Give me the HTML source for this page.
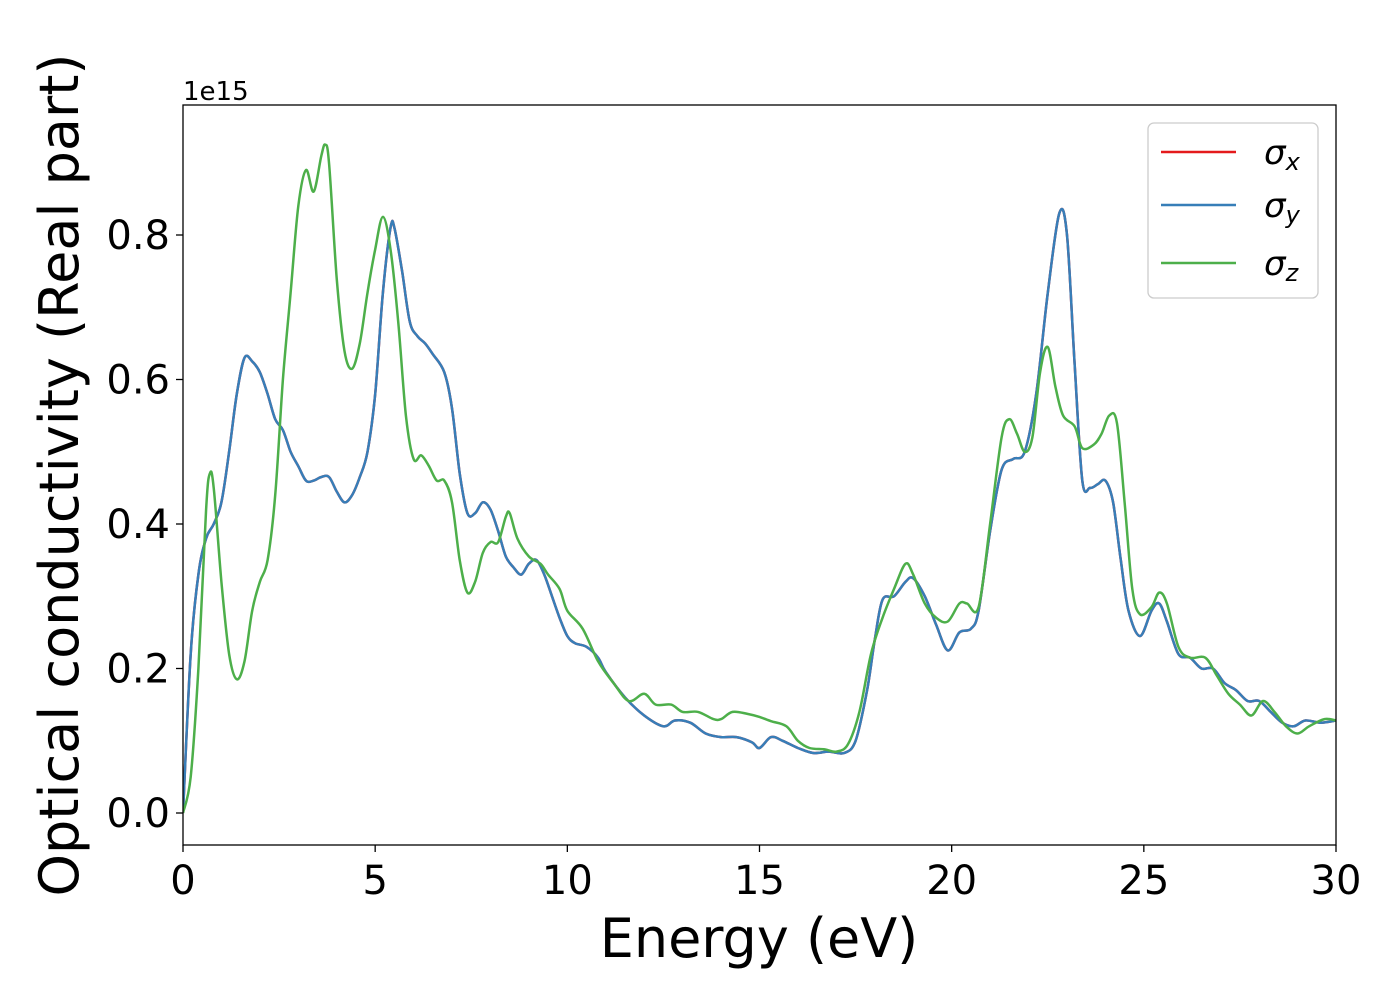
<!DOCTYPE html>
<html><head><meta charset="utf-8"><style>
body{margin:0;background:#fff;}
svg{display:block;font-family:"DejaVu Sans","Liberation Sans",sans-serif;}
</style></head><body>
<svg id="chart" width="1400" height="1000">
<rect x="0" y="0" width="1400" height="1000" fill="#fff"/>
<g id="plot"></g>
<g id="axes"></g>
<rect x="183" y="105" width="1153" height="740" fill="none" stroke="#000" stroke-width="1.3"/>
<text x="183" y="100" font-size="26">1e15</text>
<text x="759" y="957" font-size="54" text-anchor="middle">Energy (eV)</text>
<text transform="translate(78,475) rotate(-90)" font-size="54" text-anchor="middle">Optical conductivity (Real part)</text>
<g>
<rect x="1148" y="123" width="170" height="175" rx="6" fill="#fff" fill-opacity="0.8" stroke="#ccc" stroke-width="1.3"/>
<line x1="1161" y1="152" x2="1236" y2="152" stroke="#e41a1c" stroke-width="2.5"/>
<text x="1264" y="164" font-size="34" font-style="italic">σ<tspan font-size="24" dy="6">x</tspan></text>
<line x1="1161" y1="205" x2="1236" y2="205" stroke="#377eb8" stroke-width="2.5"/>
<text x="1264" y="217" font-size="34" font-style="italic">σ<tspan font-size="24" dy="6">y</tspan></text>
<line x1="1161" y1="263" x2="1236" y2="263" stroke="#4daf4a" stroke-width="2.5"/>
<text x="1264" y="275" font-size="34" font-style="italic">σ<tspan font-size="24" dy="6">z</tspan></text>
</g>
</svg>
<script>
const xTicks=[0,5,10,15,20,25,30];
const yTicks=[0.0,0.2,0.4,0.6,0.8];
const xyE=[0,0.2,0.4,0.6,0.8,1.0,1.2,1.4,1.6,1.8,2.0,2.2,2.4,2.6,2.8,3.0,3.2,3.4,3.6,3.8,4.0,4.2,4.4,4.6,4.8,5.0,5.2,5.4,5.5,5.7,5.9,6.1,6.3,6.5,6.8,7.0,7.2,7.4,7.6,7.8,8.0,8.2,8.4,8.6,8.8,9.0,9.2,9.4,9.6,9.8,10.0,10.2,10.5,10.8,11.0,11.5,12.0,12.5,12.8,13.2,13.6,14.0,14.4,14.8,15.0,15.3,15.6,16.0,16.4,16.8,17.2,17.5,17.8,18.0,18.2,18.5,18.8,19.0,19.3,19.6,19.9,20.2,20.5,20.7,21.0,21.3,21.6,21.9,22.2,22.5,22.8,23.0,23.2,23.4,23.6,23.8,24.0,24.2,24.4,24.6,24.9,25.2,25.4,25.6,25.9,26.2,26.5,26.8,27.1,27.4,27.7,28.0,28.3,28.6,28.9,29.2,29.6,30];
const sigmaXY=[0,0.22,0.33,0.38,0.40,0.43,0.50,0.58,0.63,0.625,0.61,0.58,0.545,0.53,0.50,0.48,0.46,0.46,0.465,0.465,0.445,0.43,0.44,0.465,0.5,0.58,0.72,0.81,0.81,0.75,0.68,0.66,0.65,0.635,0.61,0.56,0.47,0.415,0.415,0.43,0.42,0.39,0.355,0.34,0.33,0.345,0.35,0.33,0.30,0.27,0.245,0.235,0.23,0.215,0.195,0.16,0.135,0.12,0.128,0.125,0.11,0.105,0.105,0.098,0.09,0.105,0.10,0.09,0.083,0.085,0.083,0.1,0.17,0.24,0.295,0.30,0.32,0.325,0.30,0.26,0.225,0.25,0.255,0.28,0.39,0.475,0.49,0.50,0.58,0.72,0.83,0.80,0.62,0.46,0.45,0.455,0.46,0.43,0.35,0.28,0.245,0.28,0.29,0.265,0.22,0.215,0.20,0.20,0.18,0.17,0.155,0.155,0.14,0.125,0.12,0.128,0.125,0.128];
const zE=[0,0.2,0.4,0.6,0.7,0.8,1.0,1.2,1.4,1.6,1.8,2.0,2.2,2.4,2.6,2.8,3.0,3.2,3.4,3.6,3.7,3.8,4.0,4.2,4.4,4.6,4.8,5.0,5.2,5.4,5.6,5.8,6.0,6.2,6.4,6.6,6.8,7.0,7.2,7.4,7.6,7.8,8.0,8.2,8.4,8.5,8.7,9.0,9.3,9.5,9.8,10.0,10.4,10.8,11.2,11.6,12.0,12.3,12.7,13.0,13.4,13.8,14.0,14.3,14.7,15.0,15.3,15.7,16.0,16.3,16.7,17.0,17.3,17.6,17.9,18.2,18.5,18.8,19.0,19.3,19.6,19.9,20.2,20.4,20.7,21.0,21.3,21.5,21.7,21.9,22.1,22.3,22.5,22.7,22.9,23.2,23.4,23.7,23.9,24.1,24.3,24.5,24.7,24.9,25.2,25.4,25.6,25.9,26.2,26.6,26.9,27.2,27.5,27.8,28.1,28.4,28.7,29.0,29.3,29.7,30];
const sigmaZ=[0,0.05,0.2,0.42,0.47,0.45,0.32,0.22,0.185,0.21,0.28,0.32,0.35,0.44,0.6,0.72,0.84,0.89,0.86,0.91,0.925,0.90,0.74,0.64,0.615,0.65,0.72,0.78,0.825,0.78,0.68,0.55,0.49,0.495,0.48,0.46,0.46,0.43,0.35,0.305,0.32,0.36,0.375,0.375,0.41,0.415,0.38,0.355,0.345,0.33,0.31,0.28,0.255,0.21,0.18,0.155,0.165,0.15,0.15,0.14,0.14,0.13,0.13,0.14,0.137,0.133,0.127,0.12,0.1,0.09,0.088,0.085,0.095,0.14,0.22,0.27,0.31,0.345,0.33,0.29,0.27,0.265,0.29,0.29,0.285,0.40,0.52,0.545,0.525,0.50,0.52,0.61,0.645,0.59,0.55,0.535,0.505,0.51,0.525,0.55,0.54,0.43,0.31,0.275,0.285,0.305,0.29,0.23,0.215,0.215,0.19,0.165,0.15,0.135,0.155,0.14,0.12,0.11,0.12,0.13,0.128];

const NS='http://www.w3.org/2000/svg';
const X0=183,X1=1336,Y0=813,YPER=722.5;
function sx(v){return X0+(v/30)*(X1-X0);}
function sy(v){return Y0-v*YPER;}
function pathD(xs,ys){
  const p=xs.map((x,i)=>[sx(x),sy(ys[i])]);
  let d='M'+p[0][0].toFixed(1)+','+p[0][1].toFixed(1);
  for(let i=0;i<p.length-1;i++){
    const a=p[Math.max(i-1,0)],b=p[i],c=p[i+1],e=p[Math.min(i+2,p.length-1)];
    const c1=[b[0]+(c[0]-a[0])/6,b[1]+(c[1]-a[1])/6];
    const c2=[c[0]-(e[0]-b[0])/6,c[1]-(e[1]-b[1])/6];
    d+='C'+c1[0].toFixed(1)+','+c1[1].toFixed(1)+' '+c2[0].toFixed(1)+','+c2[1].toFixed(1)+' '+c[0].toFixed(1)+','+c[1].toFixed(1);
  }
  return d;
}
const plot=document.getElementById('plot');
const clip=document.createElementNS(NS,'clipPath');clip.setAttribute('id','cp');
const cr=document.createElementNS(NS,'rect');cr.setAttribute('x',X0);cr.setAttribute('y',105);cr.setAttribute('width',X1-X0);cr.setAttribute('height',740);
clip.appendChild(cr);plot.appendChild(clip);
function addLine(xs,ys,color,name){
  const el=document.createElementNS(NS,'path');
  el.setAttribute('d',pathD(xs,ys));el.setAttribute('fill','none');
  el.setAttribute('stroke',color);el.setAttribute('stroke-width','2.5');
  el.setAttribute('clip-path','url(#cp)');
  
  
  plot.appendChild(el);
}
addLine(xyE,sigmaXY,'#e41a1c','sigma-x-line');
addLine(xyE,sigmaXY,'#377eb8','sigma-y-line');
addLine(zE,sigmaZ,'#4daf4a','sigma-z-line');
const axes=document.getElementById('axes');
xTicks.forEach(t=>{
  const l=document.createElementNS(NS,'line');
  l.setAttribute('x1',sx(t));l.setAttribute('x2',sx(t));l.setAttribute('y1',845);l.setAttribute('y2',852);l.setAttribute('stroke','#000');l.setAttribute('stroke-width','1.3');
  
  
  axes.appendChild(l);
  const tx=document.createElementNS(NS,'text');
  tx.setAttribute('x',sx(t));tx.setAttribute('y',894);tx.setAttribute('font-size','40');tx.setAttribute('text-anchor','middle');
  tx.textContent=t;
  
  
  axes.appendChild(tx);
});
yTicks.forEach(t=>{
  const l=document.createElementNS(NS,'line');
  l.setAttribute('x1',176);l.setAttribute('x2',183);l.setAttribute('y1',sy(t));l.setAttribute('y2',sy(t));l.setAttribute('stroke','#000');l.setAttribute('stroke-width','1.3');
  
  
  axes.appendChild(l);
  const tx=document.createElementNS(NS,'text');
  tx.setAttribute('x',170);tx.setAttribute('y',sy(t)+14);tx.setAttribute('font-size','40');tx.setAttribute('text-anchor','end');
  tx.textContent=t.toFixed(1);
  
  
  axes.appendChild(tx);
});
</script>
</body></html>
